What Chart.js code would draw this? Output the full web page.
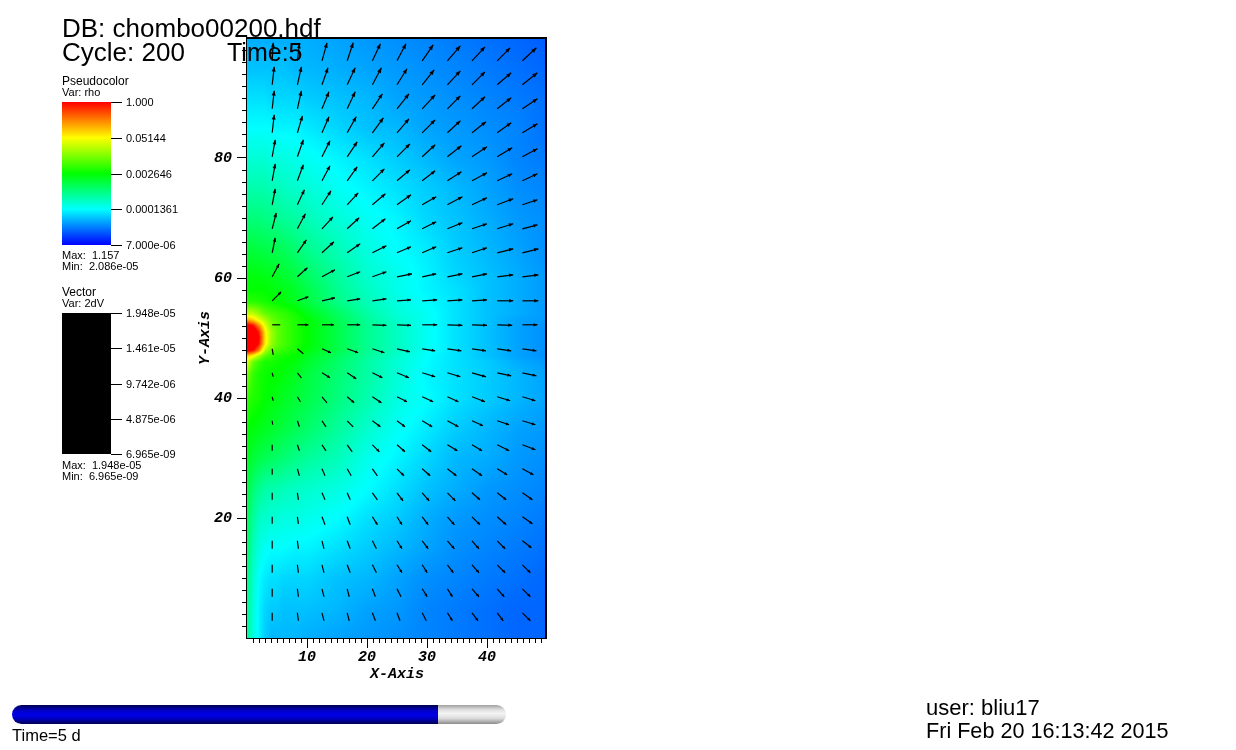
<!DOCTYPE html>
<html>
<head>
<meta charset="utf-8">
<title>chombo00200</title>
<script src="https://cdn.jsdelivr.net/npm/chart.js@4/dist/chart.umd.min.js"></script>
<style>
    html, body { margin: 0; padding: 0; background: #ffffff; }
    canvas { display: block; }
</style>
</head>
<body>
<canvas id="plot" width="1236" height="750"></canvas>
<script>
// rho, as percent along the log colour bar (0 = 7e-06, 100 = 1.0)
let rhoX = [0, 1, 2, 3, 4, 5, 6, 8, 10, 15, 20, 25, 30, 35, 40, 45, 50];
let rhoY = [100, 95, 90, 85, 80, 75, 70, 65, 60, 58, 56, 54, 53, 52, 51, 50, 49, 48, 47, 46, 44, 40, 35, 30, 25, 20, 15, 10, 5, 0];
let rhoLevels = [
    [17, 17, 17, 17, 17, 17, 17, 17, 17, 16, 15, 14, 13, 12, 11, 10, 9],
    [19, 19, 19, 19, 19, 19, 19, 18, 18, 17, 16, 15, 14, 13, 12, 11, 10],
    [22, 22, 22, 22, 21, 21, 21, 21, 20, 19, 18, 16, 15, 14, 13, 12, 11],
    [25, 25, 25, 25, 25, 24, 24, 24, 23, 21, 19, 18, 16, 15, 14, 13, 11],
    [29, 29, 29, 29, 28, 28, 28, 27, 26, 24, 22, 20, 18, 16, 15, 13, 12],
    [33, 33, 33, 33, 32, 32, 31, 30, 29, 26, 24, 22, 20, 18, 16, 14, 13],
    [38, 38, 38, 37, 37, 36, 35, 34, 32, 29, 26, 24, 21, 19, 17, 15, 14],
    [44, 44, 43, 43, 42, 42, 41, 39, 36, 32, 28, 25, 23, 20, 18, 16, 14],
    [49, 49, 49, 48, 48, 47, 46, 44, 41, 35, 30, 27, 24, 21, 19, 17, 15],
    [50, 50, 50, 50, 49, 48, 48, 46, 43, 36, 31, 27, 24, 22, 19, 17, 15],
    [54, 54, 53, 52, 51, 50, 49, 47, 44, 37, 32, 28, 25, 22, 19, 17, 15],
    [70, 69, 65, 60, 58, 56, 55, 52, 48, 41, 34, 29, 26, 22, 19, 17, 15],
    [84, 80, 73, 67, 61, 58, 56, 53, 50, 42, 35, 30, 26, 22, 19, 16, 15],
    [105, 100, 87, 73, 63, 59, 57, 53, 50, 43, 36, 31, 26, 22, 19, 16, 14],
    [110, 110, 97, 77, 66, 60, 57, 53, 50, 43, 36, 31, 26, 22, 19, 16, 14],
    [110, 110, 100, 78, 66, 60, 57, 53, 50, 43, 36, 31, 26, 22, 19, 16, 14],
    [110, 110, 98, 77, 65, 60, 57, 53, 50, 43, 36, 31, 26, 22, 19, 16, 14],
    [105, 100, 88, 68, 60, 57, 55, 52, 49, 43, 36, 31, 26, 22, 19, 16, 14],
    [80, 75, 66, 58, 55, 53, 52, 50, 47, 41, 35, 30, 25, 22, 19, 16, 14],
    [72, 60, 55, 52, 52, 51, 50, 49, 46, 40, 34, 29, 25, 22, 20, 17, 15],
    [62, 55, 52, 51, 50, 50, 49, 47, 44, 39, 34, 29, 24, 22, 20, 18, 16],
    [55, 53, 52, 50, 49, 48, 47, 45, 43, 38, 33, 28, 25, 22, 20, 18, 16],
    [50, 49, 48, 47, 46, 45, 44, 42, 40, 35, 30, 26, 23, 20, 18, 16, 15],
    [47, 45, 43, 42, 41, 40, 39, 37, 35, 32, 27, 24, 21, 18, 17, 15, 14],
    [44, 39, 36, 34, 33, 33, 32, 31, 30, 28, 25, 22, 19, 17, 15, 14, 13],
    [42, 35, 31, 30, 29, 29, 28, 28, 27, 25, 22, 20, 17, 15, 14, 13, 12],
    [40, 32, 28, 26, 25, 25, 25, 24, 24, 22, 20, 18, 16, 14, 13, 12, 11],
    [38, 30, 25, 23, 22, 22, 21, 21, 21, 19, 18, 16, 14, 13, 12, 11, 10],
    [36, 29, 24, 21, 20, 20, 19, 19, 19, 18, 16, 15, 13, 12, 11, 10, 10],
    [36, 28, 24, 20, 18, 18, 18, 18, 17, 16, 15, 14, 13, 12, 11, 10, 10]
];

// 2dV glyphs: tail positions, then the two components of each arrow, top row first
let vecX = [4.2, 8.4, 12.5, 16.7, 20.9, 25, 29.2, 33.4, 37.5, 41.7, 45.9];
let vecY = [96.2, 92.2, 88.2, 84.2, 80.2, 76.2, 72.2, 68.2, 64.2, 60.2, 56.2, 52.2, 48.2, 44.2, 40.2, 36.2, 32.2, 28.2, 24.2, 20.2, 16.2, 12.2, 8.2, 4.2];
let vecU = [
    [1, 2, 5, 6, 8, 9, 11, 13, 13, 13, 14],
    [2, 4, 6, 8, 9, 10, 12, 13, 13, 14, 15],
    [2, 4, 7, 8, 10, 12, 13, 13, 13, 14, 15],
    [2, 5, 7, 9, 11, 12, 13, 13, 14, 14, 15],
    [3, 6, 8, 10, 12, 13, 13, 14, 15, 15, 15],
    [3, 6, 8, 10, 12, 13, 13, 14, 15, 15, 15],
    [3, 7, 9, 11, 13, 14, 14, 15, 15, 16, 15],
    [4, 8, 11, 12, 13, 14, 14, 15, 15, 16, 15],
    [3, 9, 12, 13, 14, 14, 14, 15, 15, 16, 16],
    [7, 10, 13, 13, 14, 15, 14, 15, 15, 16, 16],
    [9, 11, 13, 13, 14, 14, 15, 15, 15, 16, 16],
    [8, 11, 12, 13, 14, 14, 15, 15, 15, 15, 15],
    [1, 6, 9, 11, 12, 13, 13, 14, 14, 14, 14],
    [1, 4, 8, 9, 10, 12, 13, 13, 14, 14, 14],
    [1, 3, 5, 7, 9, 10, 11, 11, 13, 13, 13],
    [0.5, 2, 4, 6, 8, 8, 10, 11, 11, 12, 13],
    [0, 2, 4, 5, 7, 8, 9, 10, 10, 12, 13],
    [0, 2, 3, 4, 5, 7, 8, 9, 10, 10, 11],
    [0, 1, 3, 3, 5, 6, 7, 8, 8, 9, 10],
    [0, 1, 3, 3, 5, 5, 6, 7, 8, 9, 10],
    [0, 1, 2, 3, 4, 5, 6, 7, 7, 8, 9],
    [0, 1, 2, 3, 4, 5, 5, 6, 7, 8, 8],
    [0, 1, 2, 2, 3, 4, 5, 5, 7, 7, 8],
    [0, 1, 2, 2, 3, 3, 4, 5, 6, 6, 8]
];
let vecV = [
    [18, 17, 18, 18, 17, 17, 16, 15, 14, 13, 13],
    [18, 18, 17, 17, 17, 16, 15, 14, 13, 12, 12],
    [18, 18, 17, 17, 15, 15, 14, 13, 12, 11, 10],
    [18, 17, 16, 16, 15, 14, 13, 12, 11, 10, 9],
    [17, 17, 16, 15, 14, 13, 12, 11, 10, 9, 8],
    [17, 16, 15, 14, 12, 11, 10, 9, 8, 7, 7],
    [16, 15, 14, 12, 11, 10, 8, 8, 7, 6, 5],
    [16, 15, 12, 11, 10, 8, 7, 6, 5, 5, 4],
    [15, 13, 11, 9, 7, 6, 6, 5, 5, 4, 4],
    [13, 9, 7, 5, 5, 3, 3, 3, 3, 2, 2],
    [9, 4, 3, 2, 2, 1, 1, 1, 1, 0, 0],
    [0, 0, 0, 0, -0.5, -0.5, 0, -0.5, -0.5, -0.5, 0],
    [-6, -5, -4, -4, -4, -3, -2, -2, -2, -2, -2],
    [-4, -5, -5, -6, -5, -5, -4, -4, -4, -3, -3],
    [-4, -5, -6, -6, -6, -5, -5, -5, -5, -4, -4],
    [-4, -6, -6, -6, -6, -6, -6, -6, -5, -4, -4],
    [-6, -6, -6, -7, -7, -7, -7, -6, -6, -6, -5],
    [-6, -7, -7, -7, -7, -7, -7, -7, -7, -6, -6],
    [-7, -7, -7, -7, -7, -8, -8, -8, -7, -7, -7],
    [-7, -7, -8, -8, -8, -8, -8, -8, -8, -8, -7],
    [-8, -8, -8, -8, -8, -8, -8, -8, -8, -8, -7],
    [-8, -8, -8, -8, -8, -8, -8, -8, -8, -8, -8],
    [-8, -8, -8, -8, -8, -8, -8, -8, -8, -8, -8],
    [-8, -8, -8, -8, -8, -8, -8, -8, -8, -8, -8]
];
let vecScale = 1 / 6; // components above are stored in sixths of an axis unit

// legends
let rhoTicks = ["1.000", "0.05144", "0.002646", "0.0001361", "7.000e-06"];
let vecTicks = ["1.948e-05", "1.461e-05", "9.742e-06", "4.875e-06", "6.965e-09"];
let xTickLabels = [10, 20, 30, 40];
let yTickLabels = [20, 40, 60, 80];

let textFont = '"Liberation Sans", sans-serif';
let axisFont = '"Liberation Mono", monospace';

// blue - cyan - green - yellow - red
function levelColor(level) {
    let t = Math.min(Math.max(level / 25, 0), 4);
    if (t < 1) return [0, Math.round(255 * t), 255];
    if (t < 2) return [0, 255, Math.round(255 * (2 - t))];
    if (t < 3) return [Math.round(255 * (t - 2)), 255, 0];
    return [255, Math.round(255 * (4 - t)), 0];
}

function findCell(list, value) {
    for (let i = 0; i < list.length - 1; i++) {
        let a = list[i], b = list[i + 1];
        if (value >= Math.min(a, b) && value <= Math.max(a, b)) return [i, (value - a) / (b - a)];
    }
    return value < Math.min(list[0], list[list.length - 1]) === (list[0] < list[1]) ? [0, 0] : [list.length - 2, 1];
}

// shades the rho table pixel by pixel through the chart's scales
function drawField(chart) {
    let area = chart.chartArea, sx = chart.scales.x, sy = chart.scales.y;
    let w = Math.round(area.right - area.left), h = Math.round(area.bottom - area.top);
    let off = document.createElement("canvas");
    off.width = w;
    off.height = h;
    let offCtx = off.getContext("2d");
    let img = offCtx.createImageData(w, h);
    for (let py = 0; py < h; py++) {
        let [j, fy] = findCell(rhoY, sy.getValueForPixel(area.top + py + 0.5));
        for (let px = 0; px < w; px++) {
            let [i, fx] = findCell(rhoX, sx.getValueForPixel(area.left + px + 0.5));
            let top = rhoLevels[j][i] * (1 - fx) + rhoLevels[j][i + 1] * fx;
            let bot = rhoLevels[j + 1][i] * (1 - fx) + rhoLevels[j + 1][i + 1] * fx;
            let c = levelColor(top * (1 - fy) + bot * fy);
            let k = (py * w + px) * 4;
            img.data[k] = c[0];
            img.data[k + 1] = c[1];
            img.data[k + 2] = c[2];
            img.data[k + 3] = 255;
        }
    }
    offCtx.putImageData(img, 0, 0);
    chart.ctx.drawImage(off, area.left, area.top);
}

function drawArrows(chart) {
    let ctx = chart.ctx, sx = chart.scales.x, sy = chart.scales.y;
    ctx.save();
    ctx.strokeStyle = "#000000";
    ctx.fillStyle = "#000000";
    ctx.lineWidth = 1.2;
    chart.data.datasets[0].data.forEach(p => {
        let x0 = sx.getPixelForValue(p.x), y0 = sy.getPixelForValue(p.y);
        let x1 = sx.getPixelForValue(p.x + p.u * vecScale), y1 = sy.getPixelForValue(p.y + p.v * vecScale);
        ctx.beginPath();
        ctx.moveTo(x0, y0);
        ctx.lineTo(x1, y1);
        ctx.stroke();
        // the shortest arrows in the picture show no head at all
        let len = Math.hypot(x1 - x0, y1 - y0);
        if (len < 9) return;
        let ux = (x1 - x0) / len, uy = (y1 - y0) / len;
        let hl = Math.max(len * 0.26, 3), hw = Math.max(len * 0.11, 1.5);
        let bx = x1 - ux * hl, by = y1 - uy * hl;
        ctx.beginPath();
        ctx.moveTo(x1, y1);
        ctx.lineTo(bx - uy * hw, by + ux * hw);
        ctx.lineTo(bx + uy * hw, by - ux * hw);
        ctx.closePath();
        ctx.fill();
    });
    ctx.restore();
}

function drawMinorTicks(chart) {
    let ctx = chart.ctx, sx = chart.scales.x, sy = chart.scales.y, area = chart.chartArea;
    ctx.save();
    ctx.strokeStyle = "#000000";
    ctx.lineWidth = 1;
    ctx.beginPath();
    sx.ticks.forEach(t => {
        if (t.value % 10 === 0) return;
        let p = Math.round(sx.getPixelForValue(t.value)) + 0.5;
        ctx.moveTo(p, area.bottom);
        ctx.lineTo(p, area.bottom + 5);
    });
    sy.ticks.forEach(t => {
        if (t.value % 20 === 0) return;
        let p = Math.round(sy.getPixelForValue(t.value)) + 0.5;
        ctx.moveTo(area.left, p);
        ctx.lineTo(area.left - 5, p);
    });
    ctx.stroke();
    // top and right of the frame
    ctx.lineWidth = 2;
    ctx.beginPath();
    ctx.moveTo(area.left, area.top);
    ctx.lineTo(area.right - 1, area.top);
    ctx.lineTo(area.right - 1, area.bottom);
    ctx.stroke();
    ctx.fillStyle = "#ffffff";
    ctx.fillRect(area.right, area.top - 1, 2, area.bottom - area.top + 2);
    ctx.restore();
}

function text(ctx, str, x, y, size) {
    ctx.font = size + "px " + textFont;
    ctx.fillText(str, x, y);
}

function drawLegendBar(ctx, top, bottom, labels, fill) {
    ctx.fillStyle = fill;
    ctx.fillRect(62, top, 49, bottom - top);
    ctx.fillStyle = "#000000";
    ctx.strokeStyle = "#000000";
    ctx.lineWidth = 1;
    labels.forEach((label, i) => {
        let y = Math.round(top + (bottom - top) * i / (labels.length - 1));
        ctx.beginPath();
        ctx.moveTo(111, y + 0.5);
        ctx.lineTo(122, y + 0.5);
        ctx.stroke();
        ctx.textBaseline = "middle";
        text(ctx, label, 126, y + 1, 11);
        ctx.textBaseline = "alphabetic";
    });
}

function drawSlider(ctx) {
    let x = 12, y = 705, w = 494, h = 19, split = 438;
    let blue = ctx.createLinearGradient(0, y, 0, y + h);
    blue.addColorStop(0, "#000050");
    blue.addColorStop(0.3, "#0000c8");
    blue.addColorStop(0.5, "#0000e6");
    blue.addColorStop(0.7, "#0000c8");
    blue.addColorStop(1, "#000050");
    let grey = ctx.createLinearGradient(0, y, 0, y + h);
    grey.addColorStop(0, "#a0a0a0");
    grey.addColorStop(0.25, "#e0e0e0");
    grey.addColorStop(0.45, "#f4f4f4");
    grey.addColorStop(0.7, "#dcdcdc");
    grey.addColorStop(1, "#8c8c8c");
    ctx.save();
    ctx.beginPath();
    ctx.roundRect(x, y, w, h, 9.5);
    ctx.clip();
    ctx.fillStyle = blue;
    ctx.fillRect(x, y, split - x, h);
    ctx.fillStyle = grey;
    ctx.fillRect(split, y, x + w - split, h);
    ctx.restore();
}

let annotations = {
    id: "annotations",
    beforeDatasetsDraw(chart) {
        drawField(chart);
    },
    afterDatasetsDraw(chart) {
        drawArrows(chart);
        drawMinorTicks(chart);
    },
    afterDraw(chart) {
        let ctx = chart.ctx;
        ctx.save();
        ctx.fillStyle = "#000000";
        ctx.textAlign = "left";
        text(ctx, "DB: chombo00200.hdf", 62, 37, 26);
        text(ctx, "Cycle: 200", 62, 61, 26);
        text(ctx, "Time:5", 227, 61, 25);

        text(ctx, "Pseudocolor", 62, 85, 12);
        text(ctx, "Var: rho", 62, 96, 11);
        let grad = ctx.createLinearGradient(0, 102, 0, 245);
        ["#ff0000", "#ffff00", "#00ff00", "#00ffff", "#0000ff"].forEach((c, i) => grad.addColorStop(i / 4, c));
        drawLegendBar(ctx, 102, 245, rhoTicks, grad);
        text(ctx, "Max:  1.157", 62, 259, 11);
        text(ctx, "Min:  2.086e-05", 62, 270, 11);

        text(ctx, "Vector", 62, 296, 12);
        text(ctx, "Var: 2dV", 62, 307, 11);
        drawLegendBar(ctx, 313, 454, vecTicks, "#000000");
        text(ctx, "Max:  1.948e-05", 62, 469, 11);
        text(ctx, "Min:  6.965e-09", 62, 480, 11);

        drawSlider(ctx);
        text(ctx, "Time=5 d", 12, 741, 16.5);
        text(ctx, "user: bliu17", 926, 715, 22);
        text(ctx, "Fri Feb 20 16:13:42 2015", 926, 738, 21.6);
        ctx.restore();
    }
};

let vectorPoints = [];
vecY.forEach((y, r) => {
    vecX.forEach((x, c) => {
        vectorPoints.push({ x: x, y: y, u: vecU[r][c], v: vecV[r][c] });
    });
});

new Chart(document.getElementById("plot").getContext("2d"), {
    type: "scatter",
    data: {
        datasets: [{ label: "2dV", data: vectorPoints, pointRadius: 0, showLine: false }]
    },
    options: {
        responsive: false,
        animation: false,
        devicePixelRatio: 1,
        layout: { padding: { left: 196, top: 38, right: 689, bottom: 67 } },
        plugins: { legend: { display: false }, tooltip: { enabled: false } },
        scales: {
            x: {
                type: "linear",
                min: 0,
                max: 50,
                afterFit: s => { s.height = 45; },
                afterBuildTicks: s => { s.ticks = Array.from({ length: 50 }, (_, i) => ({ value: i })); },
                border: { color: "#000000", width: 2 },
                grid: {
                    drawOnChartArea: false,
                    tickLength: 10,
                    tickColor: c => xTickLabels.includes(c.tick.value) ? "#000000" : "rgba(0,0,0,0)"
                },
                ticks: {
                    autoSkip: false,
                    maxRotation: 0,
                    padding: 0,
                    color: "#000000",
                    font: { family: axisFont, size: 15, style: "italic", weight: "bold" },
                    callback: v => xTickLabels.includes(v) ? String(v) : ""
                },
                title: {
                    display: true,
                    text: "X-Axis",
                    color: "#000000",
                    padding: { top: 0, bottom: 0 },
                    font: { family: axisFont, size: 15, style: "italic", weight: "bold" }
                }
            },
            y: {
                type: "linear",
                min: 0,
                max: 100,
                afterFit: s => { s.width = 51; },
                afterBuildTicks: s => { s.ticks = Array.from({ length: 50 }, (_, i) => ({ value: i * 2 })); },
                border: { color: "#000000", width: 2 },
                grid: {
                    drawOnChartArea: false,
                    tickLength: 10,
                    tickColor: c => yTickLabels.includes(c.tick.value) ? "#000000" : "rgba(0,0,0,0)"
                },
                ticks: {
                    autoSkip: false,
                    padding: 5,
                    color: "#000000",
                    font: { family: axisFont, size: 15, style: "italic", weight: "bold" },
                    callback: v => yTickLabels.includes(v) ? String(v) : ""
                },
                title: {
                    display: true,
                    text: "Y-Axis",
                    color: "#000000",
                    padding: { top: 0, bottom: 0 },
                    font: { family: axisFont, size: 15, style: "italic", weight: "bold" }
                }
            }
        }
    },
    plugins: [annotations]
});
</script>
</body>
</html>
